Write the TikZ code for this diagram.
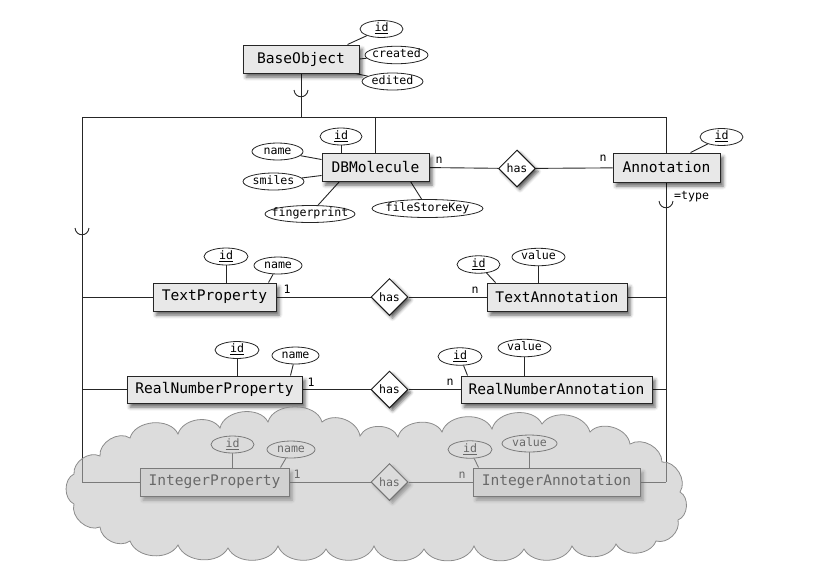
\documentclass[tikz,border=0pt]{standalone}
\usepackage{fontspec}
\usetikzlibrary{shapes.geometric,shadows.blur,calc}
\newfontfamily\mono{DejaVu Sans Mono}
\newcommand\entfont{\mono\fontsize{14.6}{16}\selectfont}
\newcommand\attrfont{\mono\fontsize{11.6}{13}\selectfont}
\newcommand\A[1]{\makebox[0pt]{#1}}
\pgfdeclarelayer{bg}
\pgfdeclarelayer{fg}
\pgfsetlayers{bg,main,fg}
\tikzset{
  ent/.style={rectangle, draw=black!85, fill=black!9, line width=1pt, inner sep=0pt,
    minimum height=28pt, font=\entfont,
    blur shadow={shadow xshift=3pt, shadow yshift=-4pt, shadow blur radius=3.5pt, shadow opacity=60}},
  attr/.style={ellipse, draw=black!85, fill=white, line width=0.8pt, inner sep=0pt,
    minimum height=17pt, text height=7pt, text depth=1.5pt, font=\attrfont},
  rel/.style={diamond, draw=black!90, fill=white, line width=1pt, inner sep=0pt,
    minimum width=37pt, minimum height=37pt, font=\attrfont,
    blur shadow={shadow xshift=3pt, shadow yshift=-3pt, shadow blur radius=3pt, shadow opacity=60}},
  card/.style={font=\attrfont, inner sep=0pt},
  conn/.style={line width=0.9pt, draw=black!85},
  subsetsym/.pic={\draw[conn] (-7,-1) .. controls (-6,8) and (6,8) .. (7,-1);},
  puff/.style={bend left=#1},
  cloudline/.style={draw=black!45, line width=0.8pt, fill=black!25, fill opacity=0.55}
}
\begin{document}
\begin{tikzpicture}[x=1pt,y=-1pt]
\useasboundingbox (0,0) rectangle (840,566);
% entities
\node[ent, minimum width=116pt] (BaseObject) at (301,59) {BaseObject};
\node[ent, minimum width=107pt] (DBMolecule) at (375.5,167) {DBMolecule};
\node[ent, minimum width=107pt, minimum height=29pt] (Annotation) at (666.5,167.5) {Annotation};
\node[ent, minimum width=123pt] (TextProperty) at (214.5,297) {TextProperty};
\node[ent, minimum width=140pt] (TextAnnotation) at (557,297) {TextAnnotation};
\node[ent, minimum width=175pt, minimum height=27pt] (RNP) at (214.5,389.5) {RealNumberProperty};
\node[ent, minimum width=191pt, minimum height=27pt] (RNA) at (556.5,389.5) {RealNumberAnnotation};
\node[ent, minimum width=149pt] (IP) at (214.5,482) {IntegerProperty};
\node[ent, minimum width=167pt] (IA) at (556.5,482) {IntegerAnnotation};
% relationships
\node[rel] (has1) at (517,168.5) {has};
\node[rel] (has2) at (389.5,297) {has};
\node[rel] (has3) at (389.5,389.5) {has};
\node[rel] (has4) at (389.5,482) {has};
% attributes
\node[attr, minimum width=43pt] (boid) at (381.5,29) {\A{\underline{id}}};
\node[attr, minimum width=63pt, minimum height=17.5pt] (bocreated) at (396.5,55) {\A{created}};
\node[attr, minimum width=61pt] (boedited) at (392.5,81.5) {\A{edited}};
\node[attr, minimum width=42pt] (dbid) at (341,136.5) {\A{\underline{id}}};
\node[attr, minimum width=51pt] (dbname) at (277.5,151.5) {\A{name}};
\node[attr, minimum width=61pt] (dbsmiles) at (273.5,181.5) {\A{smiles}};
\node[attr, minimum width=90pt] (dbfp) at (310,214) {\A{fingerprint}};
\node[attr, minimum width=111pt, minimum height=18pt] (dbfsk) at (427.5,208.5) {\A{fileStoreKey}};
\node[attr, minimum width=43pt] (anid) at (721.5,137) {\A{\underline{id}}};
\node[attr, minimum width=44pt] (tpid) at (226,256.5) {\A{\underline{id}}};
\node[attr, minimum width=48pt] (tpname) at (278,265.5) {\A{name}};
\node[attr, minimum width=43pt, minimum height=17.5pt] (taid) at (478.5,264.5) {\A{\underline{id}}};
\node[attr, minimum width=53pt, minimum height=17.5pt] (tavalue) at (538.5,257) {\A{value}};
\node[attr, minimum width=44pt] (rpid) at (237,350) {\A{\underline{id}}};
\node[attr, minimum width=47pt] (rpname) at (295.5,355.5) {\A{name}};
\node[attr, minimum width=44pt, minimum height=17.5pt] (raid) at (460,356.5) {\A{\underline{id}}};
\node[attr, minimum width=53pt, minimum height=17.5pt] (ravalue) at (524.5,348) {\A{value}};
\node[attr, minimum width=43pt] (ipid) at (232.5,444.5) {\A{\underline{id}}};
\node[attr, minimum width=48pt] (ipname) at (291,449.5) {\A{name}};
\node[attr, minimum width=44pt, minimum height=17.5pt] (iaid) at (470,449.5) {\A{\underline{id}}};
\node[attr, minimum width=55pt] (iavalue) at (529.5,443.5) {\A{value}};
% cardinalities
\node[card] (c1) at (439,160) {n};
\node[card] (c2) at (603,158) {n};
\node[card] (c3) at (287,289) {1};
\node[card] (c4) at (475,290) {n};
\node[card] (c5) at (311,382) {1};
\node[card] (c6) at (450,382) {n};
\node[card] (c7) at (297,474) {1};
\node[card] (c8) at (462,475) {n};
\node[card, anchor=west] (eqtype) at (674,196.5) {=type};
% frame coordinates
\coordinate (TL) at (82,117);
\coordinate (TR) at (666,117);
\coordinate (BL) at (82,482);
\coordinate (BR) at (666,482);
\begin{pgfonlayer}{bg}
  \draw[conn] (BaseObject.south) -- (BaseObject.south |- TL);
  \draw[conn] (TL) -- (TR);
  \draw[conn] (TL) -- (BL);
  \draw[conn] (TR) -- (BR);
  \draw[conn] (DBMolecule.north) -- (DBMolecule.north |- TL);
  \draw[conn] (DBMolecule) -- (has1) -- (Annotation);
  \draw[conn] (TextProperty.west -| TL) -- (TextProperty) -- (has2) -- (TextAnnotation) -- (TextAnnotation.east -| TR);
  \draw[conn] (RNP.west -| TL) -- (RNP) -- (has3) -- (RNA) -- (RNA.east -| TR);
  \draw[conn] (BL) -- (IP) -- (has4) -- (IA) -- (BR);
  % attribute links
  \draw[conn] ($(BaseObject.north east)+(-12,0)$) -- (boid);
  \draw[conn] (BaseObject.east) -- (bocreated);
  \draw[conn] ($(BaseObject.south east)+(-4,0)$) -- (boedited);
  \draw[conn] (dbid |- DBMolecule.north) -- (dbid);
  \draw[conn] ($(DBMolecule.north west)+(0,7)$) -- (dbname);
  \draw[conn] ($(DBMolecule.south west)+(0,-6)$) -- (dbsmiles);
  \draw[conn] ($(DBMolecule.south west)+(18,0)$) -- (dbfp);
  \draw[conn] ($(DBMolecule.south east)+(-19,0)$) -- (dbfsk);
  \draw[conn] ($(Annotation.north east)+(-30,0)$) -- (anid);
  \draw[conn] (tpid |- TextProperty.north) -- (tpid);
  \draw[conn] ($(TextProperty.north east)+(-8,0)$) -- (tpname);
  \draw[conn] ($(TextAnnotation.north west)+(9,0)$) -- (taid);
  \draw[conn] (tavalue |- TextAnnotation.north) -- (tavalue);
  \draw[conn] (rpid |- RNP.north) -- (rpid);
  \draw[conn] ($(RNP.north east)+(-12,0)$) -- (rpname);
  \draw[conn] ($(RNA.north west)+(7,0)$) -- (raid);
  \draw[conn] (ravalue |- RNA.north) -- (ravalue);
  \draw[conn] (ipid |- IP.north) -- (ipid);
  \draw[conn] ($(IP.north east)+(-9,0)$) -- (ipname);
  \draw[conn] ($(IA.north west)+(6,0)$) -- (iaid);
  \draw[conn] (iavalue |- IA.north) -- (iavalue);
  % subset symbols
  \pic at (301,91) {subsetsym};
  \pic at (82,229) {subsetsym};
  \pic at (666,202) {subsetsym};
\end{pgfonlayer}
\begin{pgfonlayer}{fg}
  \path[cloudline] (100,456)
    to[puff=65] (130,438) to[puff=70] (178,434) to[puff=65] (220,428)
    to[puff=70] (268,422) to[puff=75] (322,422) to[puff=60] (360,436)
    to[puff=65] (398,437) to[puff=70] (442,432) to[puff=70] (492,429)
    to[puff=70] (542,424) to[puff=65] (590,432) to[puff=65] (630,444)
    to[puff=60] (662,462) to[puff=65] (680,492) to[puff=65] (678,520)
    to[puff=60] (656,541) to[puff=65] (616,544) to[puff=65] (572,546)
    to[puff=65] (524,549) to[puff=65] (474,546) to[puff=65] (424,549)
    to[puff=65] (374,546) to[puff=65] (326,549) to[puff=65] (278,546)
    to[puff=65] (228,548) to[puff=65] (178,545) to[puff=65] (130,541)
    to[puff=60] (100,527) to[puff=65] (74,504) to[puff=65] (74,474)
    to[puff=60] (100,456) -- cycle;
\end{pgfonlayer}
\end{tikzpicture}
\end{document}
